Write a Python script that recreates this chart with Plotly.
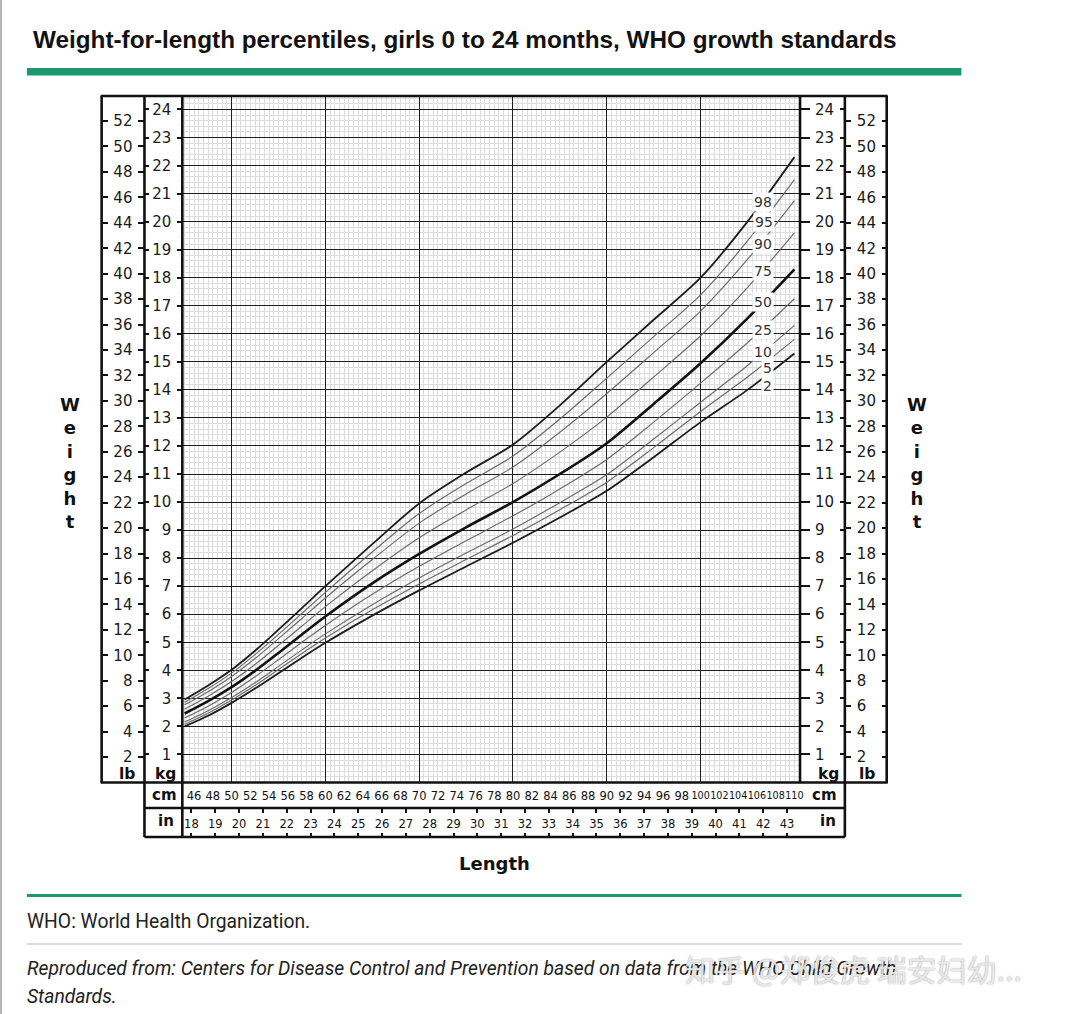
import plotly.graph_objects as go

W, H = 1080, 1014


def px(x):
    return x / W


def py(y):
    return 1 - y / H


# ---------------- data ----------------
length_cm = [45, 47.5, 50, 52.5, 55, 57.5, 60, 65, 70, 75, 80, 85, 90, 95, 100, 105, 110]
p2 = [2.00, 2.38, 2.84, 3.35, 3.90, 4.45, 4.98, 5.95, 6.85, 7.70, 8.55, 9.45, 10.40, 11.60, 12.85, 14.00, 15.30]
p5 = [2.08, 2.47, 2.94, 3.46, 4.03, 4.60, 5.15, 6.16, 7.08, 7.95, 8.81, 9.73, 10.71, 11.94, 13.23, 14.46, 15.80]
p10 = [2.16, 2.56, 3.03, 3.56, 4.14, 4.73, 5.30, 6.34, 7.29, 8.18, 9.04, 9.98, 10.98, 12.25, 13.56, 14.87, 16.30]
p25 = [2.30, 2.72, 3.21, 3.77, 4.38, 5.00, 5.60, 6.71, 7.71, 8.62, 9.51, 10.47, 11.52, 12.85, 14.24, 15.68, 17.25]
p50 = [2.46, 2.90, 3.40, 3.98, 4.62, 5.28, 5.92, 7.10, 8.15, 9.10, 10.00, 11.00, 12.10, 13.50, 14.95, 16.55, 18.30]
p75 = [2.62, 3.08, 3.60, 4.21, 4.89, 5.58, 6.27, 7.55, 8.73, 9.72, 10.66, 11.78, 13.03, 14.46, 15.93, 17.65, 19.60]
p90 = [2.77, 3.24, 3.78, 4.42, 5.13, 5.85, 6.58, 7.95, 9.25, 10.29, 11.25, 12.49, 13.87, 15.33, 16.81, 18.65, 20.75]
p95 = [2.86, 3.35, 3.90, 4.56, 5.28, 6.03, 6.78, 8.22, 9.59, 10.66, 11.64, 12.96, 14.42, 15.90, 17.39, 19.31, 21.50]
p98 = [2.96, 3.46, 4.02, 4.70, 5.45, 6.22, 7.00, 8.50, 9.95, 11.05, 12.05, 13.45, 15.00, 16.50, 18.00, 20.00, 22.30]

percentile_names = ["2", "5", "10", "25", "50", "75", "90", "95", "98"]
label_cm = [107.1, 107.1, 106.6, 106.7, 106.7, 106.7, 106.7, 106.8, 106.7]
label_kg = [14.15, 14.79, 15.34, 16.14, 17.13, 18.24, 19.21, 19.98, 20.70]

kg_ticks = list(range(1, 25))
lb_ticks = list(range(2, 53, 2))
cm_ticks_a = list(range(46, 99, 2))
cm_ticks_b = list(range(100, 111, 2))
cm_major = [50, 60, 70, 80, 90, 100]
in_ticks = list(range(18, 44))

KG_MAX = 24.48
LB_PER_KG = 2.20462
CM_MIN, CM_MAX = 44.75, 110.6

title_text = "Weight-for-length percentiles, girls 0 to 24 months, WHO growth standards"
footer_1 = "WHO: World Health Organization."
footer_2 = "Reproduced from: Centers for Disease Control and Prevention based on data from the WHO Child Growth"
footer_3 = "Standards."
watermark = "知乎 @郑俊虎 瑞安妇幼..."

# ---------------- figure ----------------
series = [p2, p5, p10, p25, p50, p75, p90, p95, p98]
fig = go.Figure()
for name, vals in zip(percentile_names, series):
    if name == "50":
        color, width = "#111111", 2.6
    elif name in ("2", "98"):
        color, width = "#1c1c1c", 1.8
    else:
        color, width = "#6a6a6a", 1.15
    fig.add_trace(go.Scatter(
        x=length_cm, y=vals, mode="lines", name=name,
        line=dict(color=color, width=width, shape="spline", smoothing=0.8),
        showlegend=False, hoverinfo="skip"))

# empty traces so every helper axis is instantiated
for xa, ya in [("x", "y2"), ("x", "y3"), ("x", "y4"), ("x", "y5"), ("x", "y6"),
               ("x", "y7"), ("x", "y8"), ("x2", "y"), ("x3", "y"), ("x4", "y"), ("x5", "y")]:
    fig.add_trace(go.Scatter(x=[], y=[], xaxis=xa, yaxis=ya, showlegend=False, hoverinfo="skip"))

tick_font = dict(family="DejaVu Sans", size=15, color="#1a1a1a")
small_font = dict(family="DejaVu Sans", size=11.5, color="#111111")

ydom = [py(782.5), py(96)]
xdom = [px(183), px(803)]

fig.update_layout(
    width=W, height=H, margin=dict(l=0, r=0, t=0, b=0),
    paper_bgcolor="white", plot_bgcolor="white",
    xaxis=dict(domain=xdom, range=[CM_MIN, CM_MAX], tickmode="array", tickvals=cm_major,
               showticklabels=False, ticks="", showgrid=True, gridcolor="#1e1e1e", gridwidth=1.4,
               minor=dict(tickmode="linear", tick0=45, dtick=0.5, showgrid=True,
                          gridcolor="#dddddd", gridwidth=1, ticks=""),
               zeroline=False, showline=False, anchor="y"),
    yaxis=dict(domain=ydom, range=[0, KG_MAX], tickmode="array", tickvals=kg_ticks,
               ticks="outside", ticklen=4, tickwidth=1.5, tickcolor="#111",
               showgrid=True, gridcolor="#1e1e1e", gridwidth=1.4,
               minor=dict(tickmode="linear", tick0=0, dtick=0.2, showgrid=True,
                          gridcolor="#dddddd", gridwidth=1, ticks=""),
               tickfont=tick_font, ticklabelstandoff=3, zeroline=False, showline=False,
               anchor="x", side="left"),
    yaxis2=dict(overlaying="y", side="right", anchor="x", range=[0, KG_MAX], tickmode="array",
                tickvals=kg_ticks, ticks="outside", ticklen=9, tickwidth=1.5, tickcolor="#111",
                showgrid=False, zeroline=False, tickfont=tick_font, ticklabelstandoff=2),
    yaxis3=dict(overlaying="y", side="right", anchor="free", position=px(848), range=[0, KG_MAX],
                tickmode="array", tickvals=kg_ticks, ticks="inside", ticklen=5, tickwidth=1.5,
                tickcolor="#111", showticklabels=False, showgrid=False, zeroline=False),
    yaxis4=dict(overlaying="y", side="left", anchor="free", position=px(145), range=[0, KG_MAX],
                tickmode="array", tickvals=kg_ticks, ticks="inside", ticklen=4, tickwidth=1.5,
                tickcolor="#111", showticklabels=False, showgrid=False, zeroline=False),
    yaxis5=dict(overlaying="y", side="left", anchor="free", position=px(145),
                range=[0, KG_MAX * LB_PER_KG], tickmode="array", tickvals=lb_ticks,
                ticks="outside", ticklen=6, tickwidth=1.5, tickcolor="#111",
                showgrid=False, zeroline=False, tickfont=tick_font, ticklabelstandoff=3),
    yaxis6=dict(overlaying="y", side="left", anchor="free", position=px(102),
                range=[0, KG_MAX * LB_PER_KG], tickmode="array", tickvals=lb_ticks,
                ticks="inside", ticklen=5, tickwidth=1.5, tickcolor="#111",
                showticklabels=False, showgrid=False, zeroline=False),
    yaxis7=dict(overlaying="y", side="right", anchor="free", position=px(848),
                range=[0, KG_MAX * LB_PER_KG], tickmode="array", tickvals=lb_ticks,
                ticks="outside", ticklen=5, tickwidth=1.5, tickcolor="#111",
                showgrid=False, zeroline=False, tickfont=tick_font, ticklabelstandoff=3),
    yaxis8=dict(overlaying="y", side="right", anchor="free", position=px(890),
                range=[0, KG_MAX * LB_PER_KG], tickmode="array", tickvals=lb_ticks,
                ticks="inside", ticklen=5, tickwidth=1.5, tickcolor="#111",
                showticklabels=False, showgrid=False, zeroline=False),
    xaxis2=dict(overlaying="x", anchor="y", side="bottom", range=[CM_MIN, CM_MAX],
                tickmode="array", tickvals=cm_ticks_a, ticks="", tickangle=0,
                showgrid=False, zeroline=False, tickfont=small_font, ticklabelstandoff=5),
    xaxis3=dict(overlaying="x", anchor="y", side="bottom", range=[CM_MIN, CM_MAX],
                tickmode="array", tickvals=cm_ticks_b, ticks="", tickangle=0,
                showgrid=False, zeroline=False,
                tickfont=dict(family="DejaVu Sans", size=9.6, color="#111111"), ticklabelstandoff=6),
    xaxis4=dict(overlaying="x", anchor="free", position=py(808), side="bottom",
                range=[CM_MIN / 2.54, CM_MAX / 2.54], tickmode="array", tickvals=in_ticks,
                ticks="outside", ticklen=4, tickwidth=1.5, tickcolor="#111", tickangle=0,
                showgrid=False, zeroline=False, tickfont=small_font, ticklabelstandoff=1),
    xaxis5=dict(overlaying="x", anchor="free", position=py(837), side="bottom",
                range=[CM_MIN / 2.54, CM_MAX / 2.54], tickmode="array", tickvals=in_ticks,
                ticks="inside", ticklen=4, tickwidth=1.5, tickcolor="#111",
                showticklabels=False, showgrid=False, zeroline=False),
)

# ---------------- frame lines ----------------
shapes = []


def hline(x0, x1, y, color="#111", width=2.6):
    shapes.append(dict(type="line", xref="paper", yref="paper", x0=px(x0), x1=px(x1),
                       y0=py(y), y1=py(y), line=dict(color=color, width=width)))


def vline(x, y0, y1, color="#111", width=2.6):
    shapes.append(dict(type="line", xref="paper", yref="paper", x0=px(x), x1=px(x),
                       y0=py(y0), y1=py(y1), line=dict(color=color, width=width)))


hline(101, 891, 96)
hline(101, 891, 782.5)
hline(145, 848, 808)
hline(145, 848, 837)
vline(102, 96, 782.5)
vline(145, 96, 837)
vline(183, 96, 837)
vline(803, 96, 782.5)
vline(848, 96, 837)
vline(890, 96, 782.5)

# decorative page rules
shapes.append(dict(type="rect", xref="paper", yref="paper", x0=px(27), x1=px(965),
                   y0=py(75.5), y1=py(68), fillcolor="#1a9a6c", line=dict(width=0)))
hline(27, 965, 895.5, color="#1a9a6c", width=3)
hline(27, 965, 944, color="#cfcfcf", width=1.5)
vline(1, 0, 1014, color="#b5b5b5", width=2)

fig.update_layout(shapes=shapes)

# ---------------- text ----------------
ann = []


def text(x, y, s, size, family="DejaVu Sans", color="#111", xanchor="center"):
    ann.append(dict(x=px(x), y=py(y), xref="paper", yref="paper", text=s, showarrow=False,
                    xanchor=xanchor, yanchor="middle",
                    font=dict(family=family, size=size, color=color)))


text(31, 40, "<b>" + title_text + "</b>", 24.3, family="Liberation Sans", xanchor="left")
text(70, 463, "<b>W<br>e<br>i<br>g<br>h<br>t</b>", 18)
text(920, 463, "<b>W<br>e<br>i<br>g<br>h<br>t</b>", 18)
text(127, 774, "<b>lb</b>", 15.5)
text(166, 774, "<b>kg</b>", 15.5)
text(832, 774, "<b>kg</b>", 15.5)
text(870, 774, "<b>lb</b>", 15.5)
text(165, 795, "<b>cm</b>", 15)
text(167, 821, "<b>in</b>", 15)
text(828, 795, "<b>cm</b>", 15)
text(831, 821, "<b>in</b>", 15)
text(496, 863, "<b>Length</b>", 18)
text(25, 921, footer_1, 19.3, family="Roboto", color="#222", xanchor="left")
text(25, 968, "<i>" + footer_2 + "</i>", 19.3, family="Roboto", color="#222", xanchor="left")
text(25, 996, "<i>" + footer_3 + "</i>", 19.3, family="Roboto", color="#222", xanchor="left")
ann.append(dict(x=px(686), y=py(968), xref="paper", yref="paper", text=watermark,
                showarrow=False, xanchor="left", yanchor="middle",
                font=dict(family="Noto Sans CJK SC", size=30, color="rgba(255,255,255,0.8)",
                          shadow="0px 0px 1.5px rgba(80,80,80,0.9)")))

for name, cx, cy in zip(percentile_names, label_cm, label_kg):
    ann.append(dict(x=cx, y=cy, xref="x", yref="y", text=name, showarrow=False,
                    xanchor="center", yanchor="middle", bgcolor="white", borderpad=1,
                    font=dict(family="DejaVu Sans", size=14, color="#333")))

fig.update_layout(annotations=ann)

fig.write_html("out.html")
